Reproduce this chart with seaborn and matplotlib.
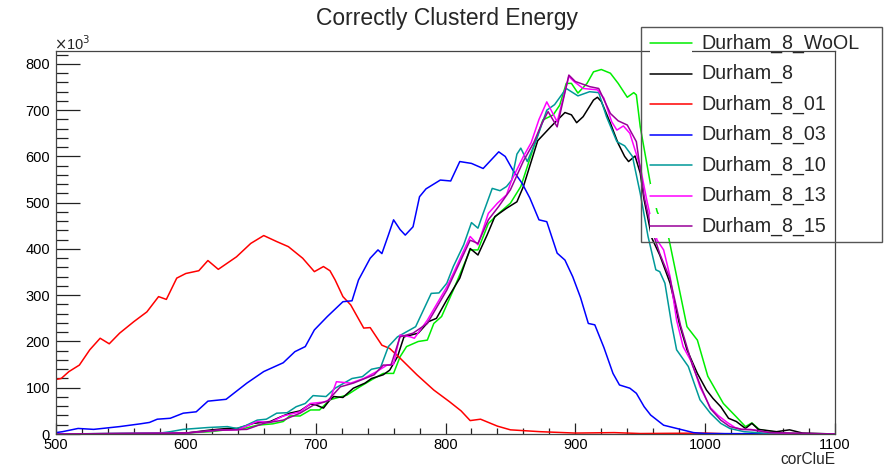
import matplotlib
matplotlib.use("Agg")
import matplotlib.pyplot as plt
from matplotlib.patches import Rectangle
from matplotlib.lines import Line2D
from matplotlib.ticker import MultipleLocator
import seaborn as sns
import pandas as pd

# ---------------- data (values in units of 10^3) ----------------
series_names = ["Durham_8_WoOL", "Durham_8", "Durham_8_01", "Durham_8_03",
                "Durham_8_10", "Durham_8_13", "Durham_8_15"]
series_colors = ["#00ee00", "#000000", "#ff0000", "#0000ff",
                 "#009999", "#ff00ff", "#990099"]

wool_x = [500, 570, 600, 619, 631, 642, 655, 667, 675, 680, 688, 696, 703, 711, 724, 734, 743,
          752, 760, 765, 770, 779, 786, 791, 797, 806, 819, 825, 833, 841, 850, 858, 868, 875,
          883, 888, 893, 897, 902, 909, 914, 920, 927, 933, 940, 945, 947, 950, 958, 963, 972,
          986, 994, 1002, 1014, 1024, 1031, 1036, 1042, 1060, 1085, 1100]
wool_y = [0, 0, 2, 5, 9, 10, 19, 22, 27, 39, 39, 52, 52, 74, 84, 102, 117,
          131, 131, 167, 189, 200, 203, 239, 254, 311, 398, 398, 455, 477, 499, 535, 621, 679,
          690, 711, 758, 758, 737, 758, 783, 788, 780, 758, 728, 738, 733, 664, 538, 481, 423,
          232, 203, 125, 66, 37, 16, 24, 9, 2, 0, 0]

d8_x = [500, 600, 620, 632, 640, 652, 665, 673, 680, 688, 696, 700, 706, 711, 714, 721, 729,
        738, 743, 752, 757, 763, 768, 779, 787, 793, 801, 811, 819, 825, 832, 838, 847, 855,
        860, 871, 881, 892, 897, 901, 906, 914, 917, 920, 927, 933, 938, 941, 946, 950, 953,
        959, 965, 973, 980, 986, 994, 1001, 1006, 1012, 1018, 1024, 1031, 1036, 1041, 1055,
        1065, 1075, 1100]
d8_y = [0, 2, 9, 12, 12, 23, 27, 37, 45, 50, 65, 63, 56, 74, 81, 79, 99,
        110, 120, 128, 138, 167, 210, 218, 243, 250, 290, 337, 401, 387, 430, 470, 488, 502,
        535, 634, 664, 695, 690, 673, 686, 722, 728, 719, 672, 628, 600, 589, 601, 564, 506,
        423, 387, 326, 240, 182, 131, 95, 77, 59, 34, 27, 12, 23, 10, 5,
        9, 2, 0]

d01_x = [500, 504, 510, 518, 526, 534, 541, 549, 560, 570, 579, 585, 593, 600, 610, 617, 625,
         639, 650, 660, 670, 679, 690, 699, 706, 711, 715, 721, 727, 737, 742, 751, 757, 765,
         778, 791, 803, 812, 819, 827, 840, 850, 873, 900, 930, 950, 1000, 1020, 1100]
d01_y = [118, 120, 135, 149, 182, 207, 195, 218, 243, 264, 297, 291, 337, 347, 353, 375, 356,
         383, 412, 429, 416, 405, 380, 351, 362, 353, 333, 297, 279, 229, 230, 192, 185, 164,
         128, 95, 70, 50, 29, 32, 17, 9, 5, 2, 3, 1, 2, 0, 0]

d03_x = [500, 505, 517, 529, 549, 565, 572, 578, 588, 598, 608, 617, 631, 647, 660, 675, 684,
         692, 699, 709, 721, 728, 733, 742, 748, 751, 756, 760, 765, 769, 775, 780, 785, 796,
         804, 811, 820, 829, 835, 841, 846, 852, 859, 865, 872, 878, 886, 892, 898, 904, 910,
         915, 922, 929, 934, 942, 947, 953, 958, 968, 981, 991, 1000, 1100]
d03_y = [3, 5, 12, 10, 16, 22, 25, 32, 34, 45, 48, 71, 75, 110, 135, 154, 178,
         189, 225, 254, 286, 288, 333, 380, 398, 390, 430, 463, 442, 430, 448, 513, 530, 549,
         547, 589, 585, 574, 592, 610, 600, 570, 542, 510, 463, 459, 391, 376, 340, 295, 239,
         236, 187, 131, 106, 99, 88, 59, 41, 19, 10, 3, 1, 0]

d10_x = [500, 580, 588, 598, 617, 632, 639, 646, 655, 662, 670, 678, 685, 692, 698, 708, 715,
         728, 736, 743, 750, 756, 763, 770, 777, 783, 789, 795, 801, 806, 814, 820, 825, 829,
         836, 842, 847, 851, 855, 858, 863, 870, 878, 884, 893, 902, 911, 918, 924, 932, 938,
         944, 950, 956, 962, 965, 969, 974, 978, 987, 996, 1004, 1012, 1019, 1030, 1045, 1060,
         1100]
d10_y = [0, 2, 5, 10, 14, 16, 12, 18, 30, 32, 45, 46, 59, 66, 83, 81, 99,
         120, 124, 140, 144, 189, 210, 221, 232, 268, 304, 305, 326, 362, 409, 457, 445, 477,
         531, 526, 535, 549, 605, 618, 589, 636, 700, 712, 747, 731, 740, 738, 686, 632, 623,
         600, 520, 427, 355, 351, 326, 240, 182, 146, 74, 45, 23, 12, 5, 2, 0,
         0]

d13_x = [500, 600, 624, 640, 655, 665, 675, 688, 696, 706, 711, 716, 727, 737, 747, 755, 760,
         765, 773, 776, 786, 801, 806, 819, 825, 833, 840, 847, 851, 860, 866, 872, 878, 886,
         895, 899, 906, 917, 922, 928, 932, 937, 942, 950, 955, 959, 963, 968, 973, 978, 983,
         990, 996, 1004, 1010, 1017, 1023, 1028, 1035, 1050, 1070, 1100]
d13_y = [0, 2, 8, 9, 27, 25, 39, 48, 66, 69, 74, 113, 110, 120, 135, 149, 151,
         214, 210, 207, 246, 318, 347, 427, 409, 477, 499, 517, 549, 600, 630, 680, 718, 675,
         773, 762, 747, 744, 726, 675, 657, 666, 650, 578, 506, 455, 419, 398, 340, 246, 189,
         153, 102, 57, 40, 25, 14, 10, 10, 3, 1, 0]

d15_x = [500, 600, 624, 647, 660, 675, 688, 698, 709, 719, 729, 745, 752, 758, 765, 775, 786,
         801, 819, 825, 833, 841, 850, 860, 868, 874, 879, 886, 895, 900, 911, 918, 927, 933,
         940, 947, 953, 958, 965, 973, 981, 990, 997, 1004, 1012, 1019, 1028, 1036, 1050, 1100]
d15_y = [0, 2, 8, 10, 23, 30, 45, 62, 71, 102, 110, 128, 149, 149, 210, 218, 239,
         311, 419, 412, 463, 492, 528, 590, 630, 670, 697, 664, 776, 762, 751, 747, 693, 677,
         668, 632, 513, 450, 390, 335, 235, 150, 100, 55, 30, 16, 10, 9, 3, 0]

xs = [wool_x, d8_x, d01_x, d03_x, d10_x, d13_x, d15_x]
ys = [wool_y, d8_y, d01_y, d03_y, d10_y, d13_y, d15_y]

x_ticks = [500, 600, 700, 800, 900, 1000, 1100]
y_ticks = [0, 100, 200, 300, 400, 500, 600, 700, 800]

frames = []
for name, x, y in zip(series_names, xs, ys):
    frames.append(pd.DataFrame({"corCluE": x, "value": y, "series": name}))
df = pd.concat(frames, ignore_index=True)

# ---------------- style ----------------
sns.set_style("ticks")
plt.rcParams["font.family"] = ["Liberation Sans", "DejaVu Sans"]

W, H = 886, 468
fig = plt.figure(figsize=(W / 100, H / 100), dpi=100)
ax = fig.add_axes([56 / W, 34 / H, (835 - 56) / W, (434 - 51) / H])

sns.lineplot(data=df, x="corCluE", y="value", hue="series",
             hue_order=series_names, palette=dict(zip(series_names, series_colors)),
             estimator=None, sort=False, linewidth=1.1, legend=False, ax=ax)

ax.set_xlim(500, 1100)
ax.set_ylim(0, 828)
ax.set_xticks(x_ticks)
ax.set_yticks(y_ticks)
ax.xaxis.set_minor_locator(MultipleLocator(20))
ax.yaxis.set_minor_locator(MultipleLocator(20))
ax.tick_params(axis="both", which="both", direction="in", colors="#222222", width=0.9)
ax.tick_params(axis="x", which="major", length=8, pad=3, labelsize=10.5)
ax.tick_params(axis="x", which="minor", length=4)
ax.tick_params(axis="y", which="major", length=17, pad=4.3, labelsize=10.5)
ax.tick_params(axis="y", which="minor", length=8.6)
ax.tick_params(labelcolor="black")
for s in ax.spines.values():
    s.set_visible(True)
    s.set_color("#444444")
    s.set_linewidth(0.9)
ax.set_xlabel("")
ax.set_ylabel("")

# axis annotations
fig.text(835 / W, 1 - 460 / H, "corCluE", ha="right", va="center", fontsize=11.2)
fig.text(54 / W, 1 - 44 / H, r"$\times$10$^{3}$", ha="left", va="center", fontsize=10.5)
fig.text(447 / W, 1 - 18 / H, "Correctly Clusterd Energy", ha="center", va="center",
         fontsize=16.5)

# ---------------- legend (ROOT style, transparent with white symbol boxes) ----------------
row_centers = [43.3, 73.8, 104.3, 134.8, 165.3, 195.8, 226.3]
fig.add_artist(Rectangle((641 / W, 1 - 242 / H), (882 - 641) / W, (242 - 27) / H,
                         transform=fig.transFigure, facecolor="none",
                         edgecolor="#555555", linewidth=1.0, zorder=3))
for name, col, c in zip(series_names, series_colors, row_centers):
    fig.add_artist(Rectangle((650 / W, 1 - (c + 12) / H), 42 / W, 24 / H,
                             transform=fig.transFigure, facecolor="white",
                             edgecolor="none", zorder=2))
    fig.add_artist(Line2D([650 / W, 692 / W], [1 - c / H, 1 - c / H],
                          transform=fig.transFigure, color=col, linewidth=1.1, zorder=3))
    fig.text(701 / W, 1 - c / H, name, ha="left", va="center", fontsize=14.1, zorder=3)

fig.savefig("out.png", dpi=100)
